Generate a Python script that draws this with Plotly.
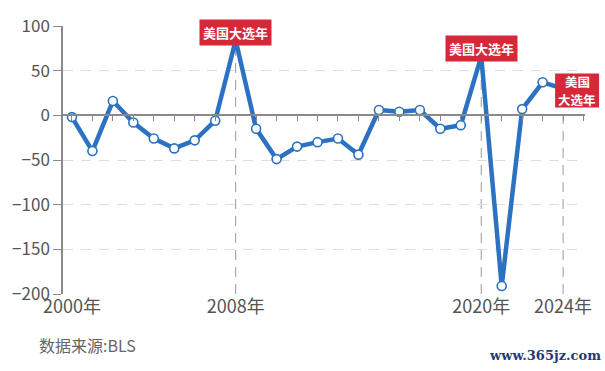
import plotly.graph_objects as go

years = list(range(2000, 2025))
values = [-2, -40, 16, -8, -26, -37, -28, -6, 84, -15, -49, -35, -30, -26, -44, 6, 4, 6, -15, -11, 66, -191, 7, 37, 30]
election_years = [2008, 2020, 2024]
election_label = "美国大选年"
split_label = ["美国", "大选年"]
x_ticks = [2000, 2008, 2020, 2024]
x_tick_text = ["2000年", "2008年", "2020年", "2024年"]
y_ticks = [-200, -150, -100, -50, 0, 50, 100]
source_text = "数据来源:BLS"
watermark = "www.365jz.com"

FONT = "Noto Sans CJK SC"
BLUE = "#2b72c2"
RED = "#d7283a"
XR = [1999.563, 2025.07]
YR = [-200, 100]

fig = go.Figure()

val_of = dict(zip(years, values))
for yr in election_years:
    fig.add_shape(type="line", x0=yr, x1=yr, y0=YR[0], y1=val_of[yr],
                  xref="x", yref="y", layer="below",
                  line=dict(color="#9a9a9a", width=1, dash="10px,7px"))

fig.add_trace(go.Scatter(
    x=years, y=values, mode="lines+markers",
    line=dict(color=BLUE, width=4.5),
    marker=dict(symbol="circle", size=9, color="white",
                line=dict(color=BLUE, width=1.6)),
    hoverinfo="skip", showlegend=False))

# invisible trace to carry the zero-line tick axis
fig.add_trace(go.Scatter(x=[years[0]], y=[0], xaxis="x2", mode="markers",
                         marker=dict(opacity=0), showlegend=False, hoverinfo="skip"))

# single-line labels for the first two election years
for yr in election_years[:2]:
    fig.add_annotation(
        x=yr, y=val_of[yr], xref="x", yref="y", text=f"<b>{election_label}</b>",
        showarrow=False, bgcolor=RED, borderpad=3,
        font=dict(family=FONT, size=13, color="white"),
        xanchor="center", yanchor="middle", yshift=8)

# two-line label for the last election year: red box (paper-anchored so it is not clipped)
last = election_years[-1]
px = (last - XR[0]) / (XR[1] - XR[0])
py = (val_of[last] - YR[0]) / (YR[1] - YR[0])
fig.add_shape(type="rect", xref="paper", yref="paper", xsizemode="pixel", ysizemode="pixel",
              xanchor=px, yanchor=py, x0=-8, x1=36, y0=-19, y1=15,
              fillcolor=RED, line=dict(width=0), layer="above")
for txt, dy in zip(split_label, [7.5, -11]):
    fig.add_annotation(x=last, y=val_of[last], xref="x", yref="y", text=f"<b>{txt}</b>",
                       showarrow=False, xanchor="center", yanchor="middle",
                       xshift=14, yshift=dy, borderpad=0,
                       font=dict(family=FONT, size=12.5, color="white"))

fig.add_annotation(x=-0.05, y=-0.19, xref="paper", yref="paper",
                   text=source_text, showarrow=False, xanchor="left", yanchor="middle",
                   font=dict(family=FONT, size=16, color="#666666"))
fig.add_annotation(x=1.035, y=-0.23, xref="paper", yref="paper",
                   text=f"<b>{watermark}</b>", showarrow=False, xanchor="right", yanchor="middle",
                   font=dict(family="DejaVu Serif", size=13, color="#1f3a78"))

fig.update_layout(
    width=605, height=371,
    margin=dict(l=60, r=20, t=24, b=77),
    paper_bgcolor="white", plot_bgcolor="white",
    showlegend=False,
    xaxis=dict(range=XR, tickmode="array", tickvals=x_ticks, ticktext=x_tick_text,
               showgrid=False, zeroline=False, showline=False, ticks="",
               tickfont=dict(family=FONT, size=18, color="#555555")),
    xaxis2=dict(range=XR, overlaying="x", anchor="free", position=2/3, side="bottom",
                showline=True, linecolor="#8a8a8a", linewidth=1.5,
                ticks="outside", ticklen=5, tickcolor="#8a8a8a", dtick=1, tick0=2000,
                showticklabels=False, showgrid=False, zeroline=False),
    yaxis=dict(range=YR, tickmode="array", tickvals=y_ticks,
               showgrid=True, gridcolor="#dddddd", griddash="10px,8px", gridwidth=1,
               zeroline=False, showline=True, linecolor="#8a8a8a", linewidth=1.5,
               ticks="outside", ticklen=8, tickcolor="#8a8a8a",
               tickfont=dict(family=FONT, size=17, color="#555555")),
)

fig.write_html("out.html")
